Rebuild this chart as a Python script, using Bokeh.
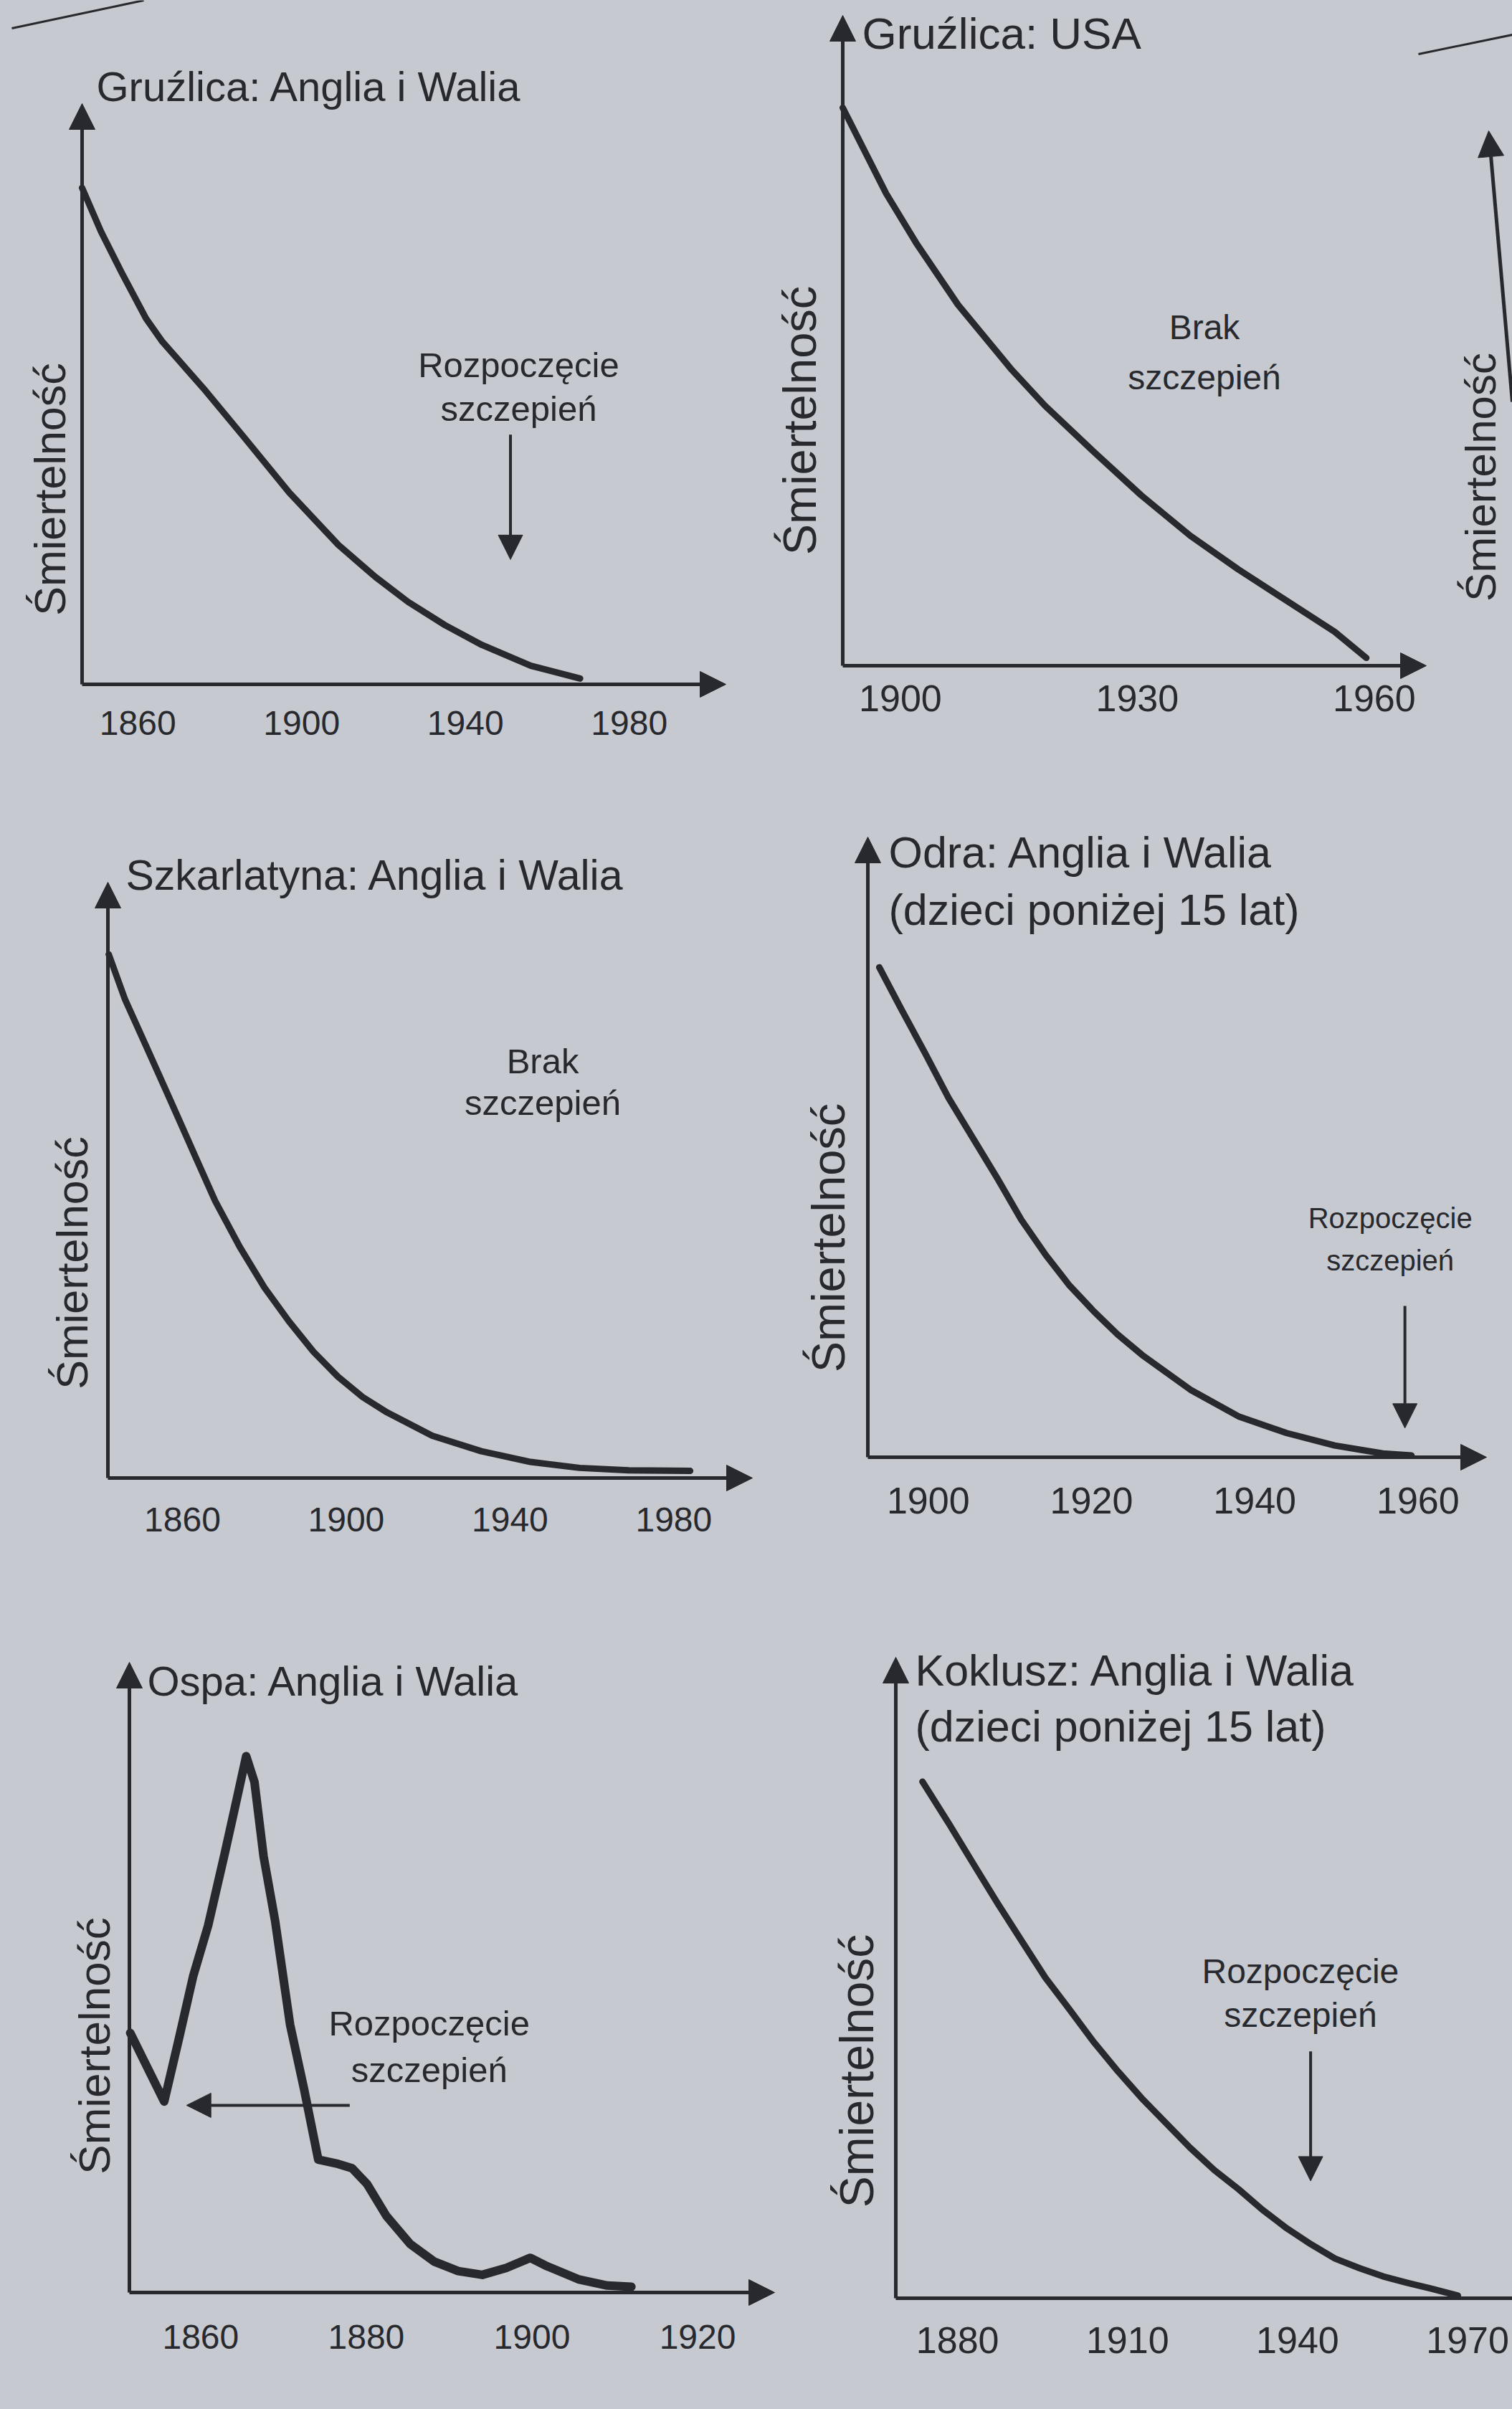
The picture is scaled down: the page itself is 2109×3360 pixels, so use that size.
import math
from bokeh.plotting import figure
from bokeh.models import Range1d, Arrow, NormalHead, Label, ColumnDataSource
from bokeh.core.properties import value
from bokeh.layouts import row, column
from bokeh.embed import file_html
from bokeh.resources import INLINE

# ---------------- data ----------------
ylabel_text = "Śmiertelność"
note_start = ["Rozpoczęcie", "szczepień"]
note_none = ["Brak", "szczepień"]

tb_ew_title = ["Gruźlica: Anglia i Walia"]
tb_ew_years = [1846.4, 1851, 1856, 1862, 1866, 1876, 1886, 1897, 1909, 1918, 1926, 1935, 1944, 1956, 1968]
tb_ew_vals = [85.5, 78, 71, 63, 59, 51, 42.5, 33, 24, 18.5, 14.2, 10.2, 6.8, 3.2, 1]
tb_ew_ticks = [1860, 1900, 1940, 1980]

tb_us_title = ["Gruźlica: USA"]
tb_us_years = [1892.7, 1898.2, 1902, 1907.3, 1914.1, 1918.3, 1924.4, 1930.5, 1936.7, 1942.8, 1948.9, 1955, 1959]
tb_us_vals = [85.8, 72.6, 65, 55.5, 45.5, 40, 33, 26.2, 20, 14.8, 10, 5.2, 1.2]
tb_us_ticks = [1900, 1930, 1960]

sf_title = ["Szkarlatyna: Anglia i Walia"]
sf_years = [1842, 1846, 1851, 1857, 1863, 1868, 1874, 1880, 1886, 1892, 1898, 1904, 1910, 1921, 1933, 1945, 1957, 1969, 1984]
sf_vals = [87.9, 80.3, 72.7, 63.5, 54.2, 46.5, 38.8, 32, 26.3, 21.2, 17, 13.6, 11, 7.1, 4.5, 2.7, 1.7, 1.3, 1.2]
sf_ticks = [1860, 1900, 1940, 1980]

ms_title = ["Odra: Anglia i Walia", "(dzieci poniżej 15 lat)"]
ms_years = [1894, 1896.6, 1899.6, 1902.5, 1905.5, 1908.5, 1911.4, 1914.4, 1917.3, 1920.3, 1923.2, 1926.2, 1932.1, 1938, 1943.9, 1949.8, 1955.7, 1959.2]
ms_vals = [79, 72.5, 65.2, 57.9, 51.4, 44.9, 38.3, 32.6, 27.7, 23.5, 19.8, 16.5, 10.9, 6.6, 3.9, 1.9, 0.6, 0.3]
ms_ticks = [1900, 1920, 1940, 1960]

sp_title = ["Ospa: Anglia i Walia"]
sp_years = [1851.5, 1855.6, 1857.4, 1859.1, 1860.9, 1862.9, 1864.4, 1865.5, 1866.5, 1867.6, 1869, 1870.8, 1872.5, 1874.2,
            1876.6, 1878.3, 1880.1, 1882.4, 1885.3, 1888.2, 1891.1, 1894, 1896.9, 1899.8, 1901.6, 1905.6, 1909.1, 1912]
sp_vals = [41.2, 30.3, 40.4, 50.2, 58.2, 69.6, 78.5, 85.1, 81, 69.2, 58.9, 42.5, 32.2, 21.1,
           20.4, 19.7, 17.2, 12.2, 7.7, 4.9, 3.4, 2.8, 3.9, 5.5, 4.3, 2.1, 1.1, 0.9]
sp_ticks = [1860, 1880, 1900, 1920]

wc_title = ["Koklusz: Anglia i Walia", "(dzieci poniżej 15 lat)"]
wc_years = [1873.8, 1878.5, 1882.7, 1887, 1891.2, 1895.5, 1899.8, 1904, 1908.3, 1912.5, 1916.8, 1921, 1925.3,
            1929.6, 1933.8, 1938.1, 1942.4, 1946.6, 1950.9, 1955.1, 1959.4, 1963.6, 1968.3]
wc_vals = [80.6, 74, 67.9, 61.7, 55.9, 50, 45, 40, 35.4, 31.2, 27.3, 23.5, 20,
           17, 13.8, 10.9, 8.4, 6.2, 4.7, 3.4, 2.4, 1.5, 0.4]
wc_ticks = [1880, 1910, 1940, 1970]

# ---------------- styling / layout ----------------
PAPER = "#c6c9cf"
INK = "#28292e"
REG = "'Liberation Sans', Arial, sans-serif"


def make_panel(years, vals, ticks, title, spec):
    fx, fy, W, H = spec["fig"]
    ox, oy, xt, yt = spec["axes"]
    x0, x1 = spec["xspan"]
    ppx = (xt - ox) / (x1 - x0)      # pixels per year
    ppv = (oy - yt) / 100.0          # pixels per value unit

    def dxp(px):
        return x0 + (px - ox) / ppx

    def dyp(py):
        return (oy - py) / ppv

    p = figure(width=W, height=H, output_backend="svg", toolbar_location=None,
               x_range=Range1d(dxp(fx), dxp(fx + W)), y_range=Range1d(dyp(fy + H), dyp(fy)),
               x_axis_type=None, y_axis_type=None, title_location=None,
               min_border_left=0, min_border_right=0, min_border_top=0, min_border_bottom=0)
    p.background_fill_color = PAPER
    p.border_fill_color = PAPER
    p.outline_line_color = None
    p.grid.visible = False

    head = lambda s: NormalHead(size=s, fill_color=INK, line_color=INK, line_width=1)

    # axes drawn as arrows
    p.add_layout(Arrow(x_start=x0, y_start=0, x_end=x0, y_end=100, end=head(36),
                       line_color=INK, line_width=5))
    p.add_layout(Arrow(x_start=x0, y_start=0, x_end=x1, y_end=0,
                       end=head(36) if spec.get("x_head", True) else None,
                       line_color=INK, line_width=5))

    # tick labels along the x axis
    tsrc = ColumnDataSource(dict(x=ticks, y=[-spec["tick_dy"] / ppv] * len(ticks),
                                 t=[str(t) for t in ticks]))
    p.text(x="x", y="y", text="t", source=tsrc, text_font=value(REG),
           text_font_size=value("%dpx" % spec["tick_size"]), text_color=INK,
           text_align="center", text_baseline="middle")

    # data curve
    p.line(years, vals, line_color=INK, line_width=spec.get("lw", 9),
           line_cap="round", line_join="round")

    # title
    tdx, tdy = spec["title_off"]
    for i, t in enumerate(title):
        p.add_layout(Label(x=dxp(ox + tdx), y=dyp(yt + tdy + i * spec.get("title_gap", 80)),
                           text=t, text_font=REG, text_font_size="%dpx" % spec["title_size"],
                           text_color=INK, text_align="left", text_baseline="middle"))

    # y axis label
    ldx, lup = spec["ylab_off"]
    p.add_layout(Label(x=dxp(ox + ldx), y=lup / ppv, text=ylabel_text, angle=math.pi / 2,
                       text_font=REG, text_font_size="%dpx" % spec["ylab_size"],
                       text_color=INK, text_align="center", text_baseline="middle"))

    # annotation text and arrow
    n = spec["note"]
    for t, yv in zip(n["text"], n["ys"]):
        p.add_layout(Label(x=n["x"], y=yv, text=t, text_font=REG,
                           text_font_size="%dpx" % n["size"], text_color=INK,
                           text_align="center", text_baseline="middle"))
    a = spec.get("arrow")
    if a:
        p.add_layout(Arrow(x_start=a[0], y_start=a[1], x_end=a[2], y_end=a[3], end=head(34),
                           line_color=INK, line_width=4))

    # page decorations (pixel based)
    for seg in spec.get("rules", []):
        p.add_layout(Arrow(x_start=dxp(seg[0]), y_start=dyp(seg[1]), x_end=dxp(seg[2]),
                           y_end=dyp(seg[3]), end=None, line_color=INK, line_width=3))
    frag = spec.get("fragment")
    if frag:
        p.add_layout(Arrow(x_start=dxp(frag["axis"][0]), y_start=dyp(frag["axis"][1]),
                           x_end=dxp(frag["axis"][2]), y_end=dyp(frag["axis"][3]), end=head(36),
                           line_color=INK, line_width=5))
        p.add_layout(Label(x=dxp(frag["label"][0]), y=dyp(frag["label"][1]), text=ylabel_text,
                           angle=math.pi / 2, text_font=REG, text_font_size="60px", text_color=INK,
                           text_align="center", text_baseline="middle"))
    return p


specs = {
    "p1": dict(fig=(0, 0, 1054, 1100), axes=(114, 954, 1012, 144), xspan=(1846.4, 2003.6),
               title_off=(20, -24), title_size=58, ylab_off=(-45, 272), ylab_size=61,
               tick_size=48, tick_dy=54,
               note=dict(text=note_start, x=1953, ys=[55, 47.5], size=49),
               arrow=(1951, 43, 1951, 21.5), rules=[(16, 39, 200, 0)]),
    "p2": dict(fig=(1054, 0, 1055, 1100), axes=(1175, 928, 1989, 21), xspan=(1892.7, 1966.6),
               title_off=(27, 25), title_size=62, ylab_off=(-60, 342), ylab_size=65,
               tick_size=52, tick_dy=45,
               note=dict(text=note_none, x=1938.5, ys=[52, 44.3], size=48),
               rules=[(1978, 75, 2109, 48)],
               fragment=dict(axis=(2109, 560, 2076, 182), label=(2065, 665))),
    "p3": dict(fig=(0, 1100, 1054, 1100), axes=(150, 2061, 1049, 1230), xspan=(1841.8, 1999.2),
               title_off=(25, -10), title_size=59, ylab_off=(-50, 300), ylab_size=61,
               tick_size=48, tick_dy=58,
               note=dict(text=note_none, x=1948, ys=[70, 63], size=49)),
    "p4": dict(fig=(1054, 1100, 1055, 1100), axes=(1210, 2032, 2073, 1167), xspan=(1892.6, 1968.4),
               title_off=(29, 21), title_size=61, ylab_off=(-55, 306), ylab_size=65,
               tick_size=52, tick_dy=60,
               note=dict(text=note_start, x=1956.6, ys=[38.6, 31.7], size=40),
               arrow=(1958.4, 24.4, 1958.4, 4.7)),
    "p5": dict(fig=(0, 2200, 1100, 1160), axes=(180, 3197, 1080, 2318), xspan=(1851.4, 1929.3),
               title_off=(25, 26), title_size=58, ylab_off=(-49, 344), ylab_size=62,
               tick_size=48, tick_dy=62, lw=12,
               note=dict(text=note_start, x=1887.6, ys=[42.7, 35.3], size=49),
               arrow=(1878, 29.7, 1858.3, 29.7)),
    "p6": dict(fig=(1100, 2200, 1009, 1160), axes=(1249, 3205, 2109, 2311), xspan=(1869.1, 1977.9),
               title_off=(27, 18), title_size=61, title_gap=78, ylab_off=(-55, 317), ylab_size=66,
               tick_size=52, tick_dy=58, x_head=False,
               note=dict(text=note_start, x=1940.5, ys=[51, 44.2], size=48),
               arrow=(1942.3, 38.5, 1942.3, 18.3)),
}

p1 = make_panel(tb_ew_years, tb_ew_vals, tb_ew_ticks, tb_ew_title, specs["p1"])
p2 = make_panel(tb_us_years, tb_us_vals, tb_us_ticks, tb_us_title, specs["p2"])
p3 = make_panel(sf_years, sf_vals, sf_ticks, sf_title, specs["p3"])
p4 = make_panel(ms_years, ms_vals, ms_ticks, ms_title, specs["p4"])
p5 = make_panel(sp_years, sp_vals, sp_ticks, sp_title, specs["p5"])
p6 = make_panel(wc_years, wc_vals, wc_ticks, wc_title, specs["p6"])

layout = column(row(p1, p2, spacing=0), row(p3, p4, spacing=0), row(p5, p6, spacing=0), spacing=0)

html = file_html(layout, INLINE, title="Śmiertelność")
html = html.replace("<body>", '<body style="margin:0;background:%s;">' % PAPER)
open("out.html", "w").write(html)
